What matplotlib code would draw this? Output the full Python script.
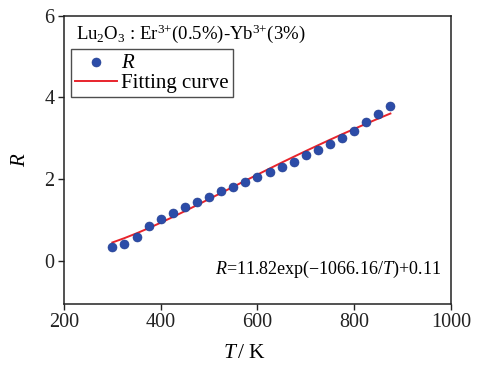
import matplotlib
matplotlib.use("Agg")
import matplotlib.pyplot as plt

plt.rcParams['font.family'] = ['Liberation Serif', 'DejaVu Serif']
plt.rcParams['mathtext.fontset'] = 'custom'
plt.rcParams['mathtext.rm'] = 'Liberation Serif'
plt.rcParams['mathtext.it'] = 'Liberation Serif:italic'
plt.rcParams['mathtext.bf'] = 'Liberation Serif:bold'

# measured R vs temperature
temps = [300, 325, 350, 375, 400, 425, 450, 475, 500, 525, 550, 575,
         600, 625, 650, 675, 700, 725, 750, 775, 800, 825, 850, 875]
r_vals = [0.33, 0.41, 0.59, 0.84, 1.03, 1.17, 1.31, 1.45, 1.55, 1.71, 1.80, 1.94,
          2.05, 2.17, 2.29, 2.43, 2.58, 2.72, 2.86, 3.00, 3.18, 3.39, 3.59, 3.80]
# fitting curve values at the same temperatures
fit_vals = [0.448, 0.555, 0.672, 0.799, 0.932, 1.072, 1.216, 1.363, 1.512, 1.661, 1.811, 1.961,
            2.109, 2.257, 2.403, 2.546, 2.687, 2.826, 2.963, 3.097, 3.228, 3.356, 3.482, 3.605]

x_ticks = [200, 400, 600, 800, 1000]
y_ticks = [0, 2, 4, 6]

fig = plt.figure(figsize=(4.8, 3.69), dpi=100)
ax = fig.add_axes([0.1333, 0.177, 0.806, 0.7805])

ax.scatter(temps, r_vals, s=42, color='#2c4ca8', edgecolors='#1f3a8c', linewidths=0.4,
           zorder=3, label='$R$')
ax.plot(temps, fit_vals, color='#e8242c', lw=1.4, zorder=2, label='Fitting curve')

ax.set_xlim(200, 1000)
ax.set_ylim(-1.05, 6)
ax.set_xticks(x_ticks)
ax.set_yticks(y_ticks)
ax.tick_params(direction='out', length=4, width=1, labelsize=14.5, colors='#222222', pad=3)
for sp in ax.spines.values():
    sp.set_linewidth(1.1)
    sp.set_color('#222222')

ax.set_xlabel(r'$T\,$/ K', fontsize=15.5)
ax.xaxis.set_label_coords(0.468, -0.14)
ax.set_ylabel('$R$', fontsize=15, rotation=90)
ax.yaxis.set_label_coords(-0.088, 0.5)

ax.text(0.03, 0.975, r'Lu$_2$O$_3$ : Er$^{3{+}}$(0.5%)-Yb$^{3{+}}$(3%)',
        transform=ax.transAxes, fontsize=13.5, ha='left', va='top')

leg = ax.legend(loc='upper left', bbox_to_anchor=(0.018, 0.885), fontsize=15,
                frameon=True, fancybox=False, borderpad=0.2, handlelength=2.0,
                handletextpad=0.2, labelspacing=0.05, borderaxespad=0)
leg.get_frame().set_edgecolor('#222222')
leg.get_frame().set_linewidth(1.0)

ax.text(980, -0.2, r'$R$=11.82exp($-$1066.16/$T$)+0.11', fontsize=13,
        ha='right', va='center')

fig.savefig('out.png', dpi=100)
